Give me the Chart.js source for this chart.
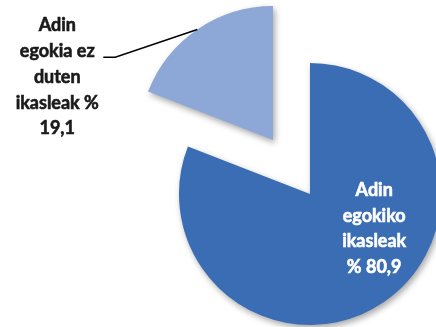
<!DOCTYPE html>
<html>
<head>
<meta charset="utf-8">
<script src="https://cdn.jsdelivr.net/npm/chart.js@4"></script>
<style>
  body { margin: 0; background: #fff; }
  #wrap { position: relative; width: 436px; height: 327px; }
  #wrap canvas { position: absolute; left: 0; top: 0; }
</style>
</head>
<body>
<div id="wrap">
  <canvas id="bigPie" width="436" height="327"></canvas>
  <canvas id="smallPie" width="436" height="327"></canvas>
</div>
<script>
const categories = ['Adin egokiko ikasleak', 'Adin egokia ez duten ikasleak'];
const values = [80.9, 19.1];
// wrapped label text as in the original, {v} is replaced by the value
const labelLines = [
    ['Adin', 'egokiko', 'ikasleak', '% {v}'],
    ['Adin', 'egokia ez', 'duten', 'ikasleak %', '{v}']
];

const FONT = 'bold 18px Lato, "Open Sans", sans-serif';
const LINE_H = 25.7;

function fmt(v) {
    return v.toFixed(1).replace('.', ',');
}

// each chart shows only its own slice, the other one stays transparent
function sliceFill(idx) {
    return function(context) {
        const i = context.dataIndex;
        if (i !== idx) return 'rgba(0,0,0,0)';
        const arc = context.element;
        if (!arc || !arc.outerRadius) return i === 0 ? '#3A6DB4' : '#8DA8D6';
        const g = context.chart.ctx.createRadialGradient(arc.x, arc.y, 0, arc.x, arc.y, arc.outerRadius);
        if (i === 0) {
            g.addColorStop(0, '#3B6FB7');
            g.addColorStop(0.88, '#3A6CB3');
            g.addColorStop(0.96, '#3464AA');
            g.addColorStop(1, '#2D5793');
        } else {
            g.addColorStop(0, '#89A4D2');
            g.addColorStop(0.86, '#8FAAD7');
            g.addColorStop(0.94, '#A3BAE1');
            g.addColorStop(1, '#97AFD9');
        }
        return g;
    };
}

const shadowPlugin = {
    id: 'shadow',
    beforeDatasetsDraw(chart) {
        const ctx = chart.ctx;
        ctx.save();
        ctx.shadowColor = 'rgba(0,0,0,0.35)';
        ctx.shadowBlur = 6;
        ctx.shadowOffsetX = 2;
        ctx.shadowOffsetY = 3;
    },
    afterDatasetsDraw(chart) {
        chart.ctx.restore();
    }
};

function drawLines(ctx, lines, cx, cy, color) {
    ctx.font = FONT;
    ctx.fillStyle = color;
    ctx.strokeStyle = color;
    ctx.lineWidth = 0.6;
    ctx.textAlign = 'center';
    ctx.textBaseline = 'middle';
    const top = cy - (lines.length - 1) * LINE_H / 2;
    lines.forEach((t, k) => {
        ctx.fillText(t, cx, top + k * LINE_H);
        ctx.strokeText(t, cx, top + k * LINE_H);
    });
}

const labelPlugin = {
    id: 'sliceLabels',
    afterDraw(chart) {
        const i = chart.options.sliceIndex;
        const arc = chart.getDatasetMeta(0).data[i];
        const ctx = chart.ctx;
        const R = arc.outerRadius;
        const lines = labelLines[i].map(t => t.replace('{v}', fmt(values[i])));
        ctx.save();
        if (i === 0) {
            drawLines(ctx, lines, arc.x + 0.49 * R, arc.y + 0.265 * R, '#ffffff');
        } else {
            const lx = arc.x - 1.61 * R;
            const ly = arc.y - 0.47 * R;
            drawLines(ctx, lines, lx, ly, '#1a1a1a');
            // leader line from the label to the slice edge
            const mid = (arc.startAngle + arc.endAngle) / 2;
            const ex = arc.x + Math.cos(mid) * R;
            const ey = arc.y + Math.sin(mid) * R;
            const sy = ly - (lines.length - 1) * LINE_H / 2 + LINE_H + 6;
            ctx.strokeStyle = '#000';
            ctx.lineWidth = 1.6;
            ctx.beginPath();
            ctx.moveTo(lx + 46, sy);
            ctx.lineTo(lx + 58, sy);
            ctx.lineTo(ex, ey);
            ctx.stroke();
        }
        ctx.restore();
    }
};

function makePie(id, idx, radius, padding) {
    return new Chart(document.getElementById(id), {
        type: 'pie',
        data: {
            labels: categories,
            datasets: [{
                data: values,
                backgroundColor: sliceFill(idx),
                borderWidth: 0,
                clip: false
            }]
        },
        options: {
            sliceIndex: idx,
            responsive: false,
            animation: false,
            radius: radius,
            layout: { padding: padding },
            plugins: {
                legend: { display: false },
                tooltip: { enabled: false }
            }
        },
        plugins: [shadowPlugin, labelPlugin]
    });
}

makePie('bigPie', 0, 131, { left: 184, right: 0, top: 61, bottom: 0 });
makePie('smallPie', 1, 134, { left: 110, right: 0, top: 0, bottom: 47 });
</script>
</body>
</html>
